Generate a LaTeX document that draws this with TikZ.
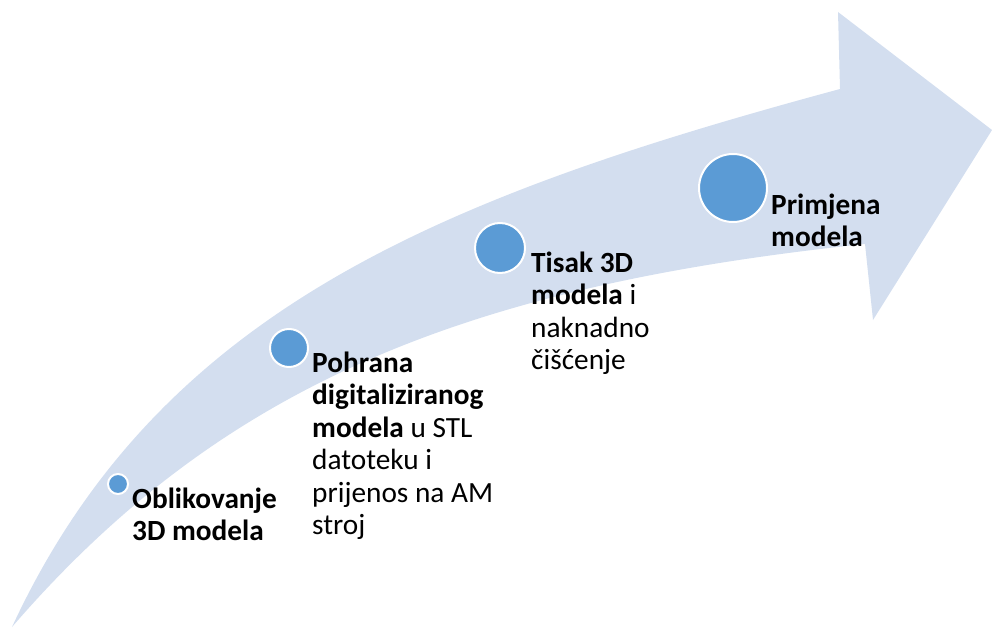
\documentclass[tikz,border=0pt]{standalone}
\usepackage{fontspec}
\setmainfont{Carlito}
\definecolor{bandblue}{RGB}{211,222,239}
\definecolor{dotblue}{HTML}{5B9BD5}

\begin{document}
\begin{tikzpicture}[x=0.03cm,y=-0.03cm,
    dot/.style={circle,fill=dotblue,draw=white,line width=0.06cm,inner sep=0pt},
    steptext/.style={anchor=north west,inner sep=0pt,align=left,
      font=\fontsize{25}{27.7}\selectfont}]
    \useasboundingbox (0,0) rectangle (992,628);
    \fill [bandblue] (12,627) .. controls (159,310) and (440,197) .. (840,89)
        -- (838,12) -- (992,130) -- (873,320) -- (865,244)
        .. controls (465,286) and (221,385) .. (12,627) -- cycle;
    \node [dot,minimum size=0.6cm] (d1) at (118,484) {};
    \node [dot,minimum size=1.14cm] (d2) at (289,348) {};
    \node [dot,minimum size=1.5cm] (d3) at (500,248) {};
    \node [dot,minimum size=2.04cm] (d4) at (733,188) {};
    \node [steptext] (t1) at (132,487.5) {\textbf{Oblikovanje}\\\textbf{3D modela}};
    \node [steptext] (t2) at (312,351.5) {\textbf{Pohrana}\\\textbf{digitaliziranog}\\\textbf{modela} u STL\\datoteku i\\prijenos na AM\\stroj};
    \node [steptext] (t3) at (531,251.5) {\textbf{Tisak 3D}\\\textbf{modela} i\\naknadno\\čišćenje};
    \node [steptext] (t4) at (771,193.5) {\textbf{Primjena}\\\textbf{modela}};
\end{tikzpicture}
\end{document}
